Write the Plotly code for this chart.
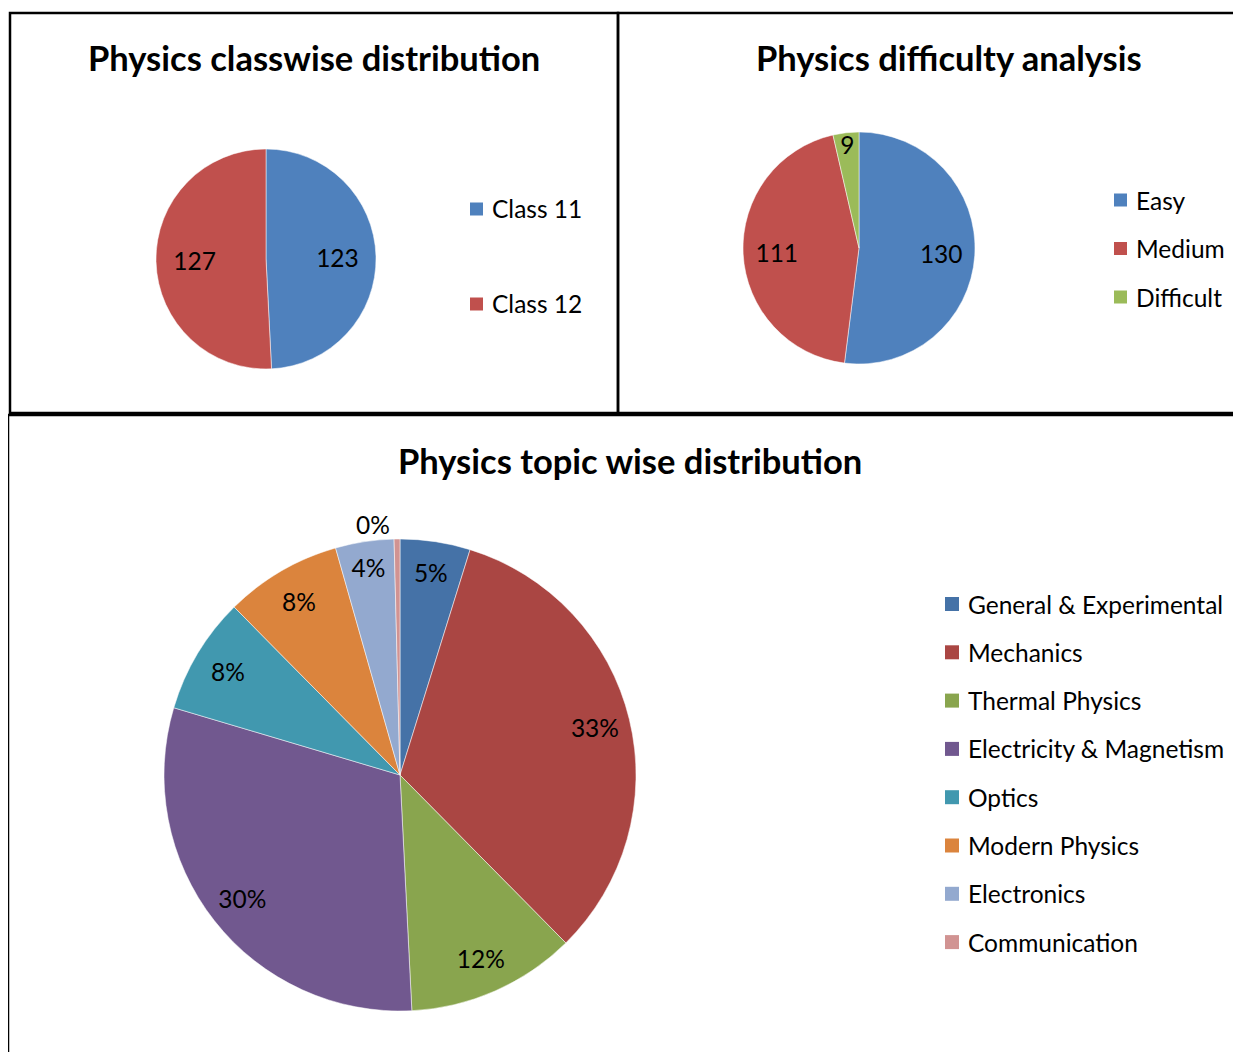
import plotly.graph_objects as go

# ---------------- data ----------------
class_labels = ["Class 11", "Class 12"]
class_values = [123, 127]
class_colors = ["#4F81BD", "#C0504D"]

diff_labels = ["Easy", "Medium", "Difficult"]
diff_values = [130, 111, 9]
diff_colors = ["#4F81BD", "#C0504D", "#9BBB59"]

topic_labels = ["General & Experimental", "Mechanics", "Thermal Physics",
                "Electricity & Magnetism", "Optics", "Modern Physics",
                "Electronics", "Communication"]
topic_values = [12, 82, 29, 76, 20, 20, 10, 1]
topic_colors = ["#4572A7", "#AA4643", "#89A54E", "#71588F",
                "#4198AF", "#DB843D", "#93A9CF", "#D19392"]

titles = ["Physics classwise distribution", "Physics difficulty analysis",
          "Physics topic wise distribution"]

# ---------------- layout helpers ----------------
OFF = 8                      # page body margin
W, H = 1241 - OFF, 1052 - OFF
FONT = "Lato"
BODY = 24.5
TITLE = 34.5


def px(x):
    return (x - OFF) / W


def py(y):
    return 1 - (y - OFF) / H


def dom(cx, cy, r):
    return dict(x=[px(cx - r), px(cx + r)], y=[py(cy + r), py(cy - r)])


fig = go.Figure()


def pie_pair(labels, values, colors, domain, hole, texttemplate, textpos, hover):
    # coloured pie (no text)
    fig.add_trace(go.Pie(
        labels=labels, values=values, sort=False, direction="clockwise",
        marker=dict(colors=colors, line=dict(color="white", width=0.5)),
        textinfo="none", domain=domain, showlegend=False, hoverinfo=hover))
    # transparent ring on top carrying the data labels
    fig.add_trace(go.Pie(
        labels=labels, values=values, sort=False, direction="clockwise", hole=hole,
        marker=dict(colors=["rgba(0,0,0,0)"] * len(values), line=dict(width=0)),
        texttemplate=texttemplate, textposition=textpos,
        insidetextorientation="horizontal",
        textfont=dict(family=FONT, size=BODY, color="black"),
        domain=domain, showlegend=False, hoverinfo="skip"))


pie_pair(class_labels, class_values, class_colors, dom(266, 259, 110), 0.3,
         "%{value}", "inside", "label+value")
pie_pair(diff_labels, diff_values, diff_colors, dom(859, 248, 116), 0.42,
         "%{value}", "inside", "label+value")
pie_pair(topic_labels, topic_values, topic_colors, dom(400, 775, 236), 0.7,
         "%{percent:.0%}", ["inside"] * (len(topic_values) - 1) + ["outside"], "label+percent")

shapes = []
annotations = []

# panel borders
border = dict(color="black", width=2.5)
for (x0, y0, x1, y1) in [(10, 13, 618, 413), (618, 13, 1250, 413), (8, 415, 1250, 1070)]:
    shapes.append(dict(type="rect", xref="paper", yref="paper",
                       x0=px(x0), x1=px(x1), y0=py(y1), y1=py(y0),
                       line=border, fillcolor="rgba(0,0,0,0)", layer="above"))

# titles
for t, (tx, ty) in zip(titles, [(314, 58), (949, 58), (630, 460)]):
    annotations.append(dict(text=f"<b>{t}</b>", x=px(tx), y=py(ty), xref="paper", yref="paper",
                            xanchor="center", yanchor="middle", showarrow=False,
                            font=dict(family=FONT, size=TITLE, color="black")))


# manual legends (square + label)
def legend(labels, colors, sx, y_first, gap, size=13):
    for i, (lab, col) in enumerate(zip(labels, colors)):
        yc = y_first + i * gap
        shapes.append(dict(type="rect", xref="paper", yref="paper",
                           x0=px(sx), x1=px(sx + size), y0=py(yc + size / 2), y1=py(yc - size / 2),
                           line=dict(width=0), fillcolor=col))
        annotations.append(dict(text=lab, x=px(sx + size + 7), y=py(yc), xref="paper", yref="paper",
                                xanchor="left", yanchor="middle", showarrow=False,
                                font=dict(family=FONT, size=BODY, color="black")))


legend(class_labels, class_colors, 470, 209, 95)
legend(diff_labels, diff_colors, 1114, 200, 48.5)
legend(topic_labels, topic_colors, 945, 604, 48.3, size=14)

fig.update_layout(width=W, height=H, margin=dict(l=0, r=0, t=0, b=0),
                  paper_bgcolor="white", plot_bgcolor="white",
                  shapes=shapes, annotations=annotations,
                  uniformtext=dict(minsize=BODY, mode="show"),
                  font=dict(family=FONT, size=BODY, color="black"))

fig.write_html("out.html")
